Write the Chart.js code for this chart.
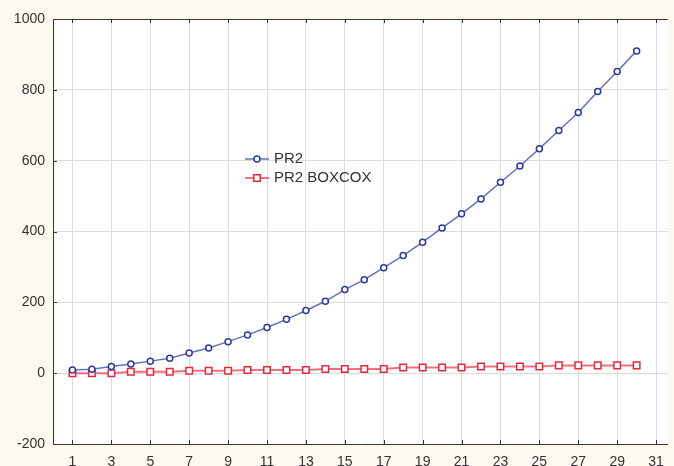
<!DOCTYPE html>
<html>
<head>
<meta charset="utf-8">
<script src="https://cdn.jsdelivr.net/npm/chart.js@4/dist/chart.umd.min.js"></script>
<style>
  html, body { margin: 0; padding: 0; background: #fdf9f0; overflow: hidden; }
  #wrap { position: relative; width: 674px; height: 466px; }
</style>
</head>
<body>
<div id="wrap"><canvas id="c" width="674" height="466"></canvas></div>
<script>
// Observation index
const steps = [1, 2, 3, 4, 5, 6, 7, 8, 9, 10, 11, 12, 13, 14, 15,
               16, 17, 18, 19, 20, 21, 22, 23, 24, 25, 26, 27, 28, 29, 30];

// PR2 series
const pr2 = [9, 11, 19, 26, 34, 42, 57, 71, 89, 108, 129, 152, 177, 203, 236,
             264, 298, 332, 370, 410, 450, 492, 539, 585, 634, 685, 736, 795, 852, 910];

// PR2 after Box-Cox transformation
const pr2Boxcox = [0, 0, 0, 4, 4, 4, 7, 7, 7, 9, 9, 9, 9, 12, 12,
                   12, 12, 16, 16, 16, 16, 19, 19, 19, 19, 22, 22, 22, 22, 22];

// Axis ticks
const xTicks = [1, 3, 5, 7, 9, 11, 13, 15, 17, 19, 21, 23, 25, 27, 29, 31];
const yTicks = [-200, 0, 200, 400, 600, 800, 1000];

const seriesNames = ['PR2', 'PR2 BOXCOX'];

const toPoints = (ys) => steps.map((x, i) => ({ x: x, y: ys[i] }));

const FONT = "'Liberation Sans', Arial, sans-serif";
const AXIS = '#333333';

// White plotting area, closed top frame and inward tick marks
const framePlugin = {
  id: 'frame',
  beforeDraw(chart) {
    const { ctx, chartArea: a } = chart;
    ctx.save();
    ctx.fillStyle = '#ffffff';
    ctx.fillRect(a.left, a.top, a.right - a.left, a.bottom - a.top);
    ctx.restore();
  },
  afterDraw(chart) {
    const { ctx, chartArea: a, scales } = chart;
    ctx.save();
    ctx.strokeStyle = AXIS;
    ctx.lineWidth = 1;
    ctx.beginPath();
    ctx.moveTo(a.left, a.top + 0.5);
    ctx.lineTo(a.right, a.top + 0.5);
    xTicks.forEach(v => {
      const px = Math.round(scales.x.getPixelForValue(v)) + 0.5;
      ctx.moveTo(px, a.top);
      ctx.lineTo(px, a.top + 4);
      ctx.moveTo(px, a.bottom);
      ctx.lineTo(px, a.bottom - 4);
    });
    yTicks.forEach(v => {
      const py = Math.round(scales.y.getPixelForValue(v)) + 0.5;
      ctx.moveTo(a.left, py);
      ctx.lineTo(a.left + 4, py);
    });
    ctx.stroke();
    ctx.restore();
  }
};

// Legend drawn inside the plotting area
const insideLegend = {
  id: 'insideLegend',
  afterDraw(chart) {
    const { ctx, chartArea: a } = chart;
    const x0 = a.left + 192;
    const y0 = a.top + 140;
    const rowGap = 19;
    ctx.save();
    chart.data.datasets.forEach((ds, i) => {
      const y = y0 + i * rowGap;
      ctx.strokeStyle = ds.borderColor;
      ctx.lineWidth = ds.borderWidth;
      ctx.beginPath();
      ctx.moveTo(x0, y);
      ctx.lineTo(x0 + 24, y);
      ctx.stroke();
      ctx.fillStyle = ds.pointBackgroundColor;
      ctx.strokeStyle = ds.pointBorderColor;
      ctx.lineWidth = ds.pointBorderWidth;
      ctx.beginPath();
      if (ds.pointStyle === 'rect') {
        const s = ds.pointRadius * Math.SQRT1_2;
        ctx.rect(x0 + 12 - s, y - s, 2 * s, 2 * s);
      } else {
        ctx.arc(x0 + 12, y, ds.pointRadius, 0, Math.PI * 2);
      }
      ctx.fill();
      ctx.stroke();
      ctx.fillStyle = AXIS;
      ctx.font = '15px ' + FONT;
      ctx.textBaseline = 'middle';
      ctx.textAlign = 'left';
      ctx.fillText(ds.label, x0 + 29, y);
    });
    ctx.restore();
  }
};

new Chart(document.getElementById('c'), {
  type: 'line',
  data: {
    datasets: [
      {
        label: seriesNames[0],
        data: toPoints(pr2),
        borderColor: 'rgba(84, 98, 182, 0.9)',
        borderWidth: 1.5,
        pointStyle: 'circle',
        pointRadius: 3,
        pointBorderWidth: 1.5,
        pointBorderColor: '#2b3a9e',
        pointBackgroundColor: '#ffffff',
        tension: 0
      },
      {
        label: seriesNames[1],
        data: toPoints(pr2Boxcox),
        borderColor: 'rgba(242, 98, 112, 0.9)',
        borderWidth: 2,
        pointStyle: 'rect',
        pointRadius: 4.6,
        pointBorderWidth: 1.5,
        pointBorderColor: '#e5283c',
        pointBackgroundColor: '#ffffff',
        tension: 0
      }
    ]
  },
  options: {
    responsive: false,
    devicePixelRatio: 1,
    animation: false,
    layout: { padding: { top: 19, right: 0, bottom: 0, left: 0 } },
    plugins: {
      legend: { display: false },
      tooltip: { enabled: false },
      title: { display: false }
    },
    scales: {
      x: {
        type: 'linear',
        min: 0,
        max: 31.6,
        afterBuildTicks: (s) => { s.ticks = xTicks.map(v => ({ value: v })); },
        afterFit: (s) => { s.height = 22; },
        grid: { color: '#dcdcdc', lineWidth: 1, drawTicks: false },
        border: { display: true, color: AXIS, width: 1 },
        ticks: {
          color: AXIS,
          padding: 10,
          maxRotation: 0,
          autoSkip: false,
          font: { family: FONT, size: 14 },
          callback: (v) => String(v)
        }
      },
      y: {
        type: 'linear',
        min: -200,
        max: 1000,
        afterBuildTicks: (s) => { s.ticks = yTicks.map(v => ({ value: v })); },
        afterFit: (s) => { s.width = 53; },
        grid: { color: '#dcdcdc', lineWidth: 1, drawTicks: false },
        border: { display: true, color: AXIS, width: 1 },
        ticks: {
          color: AXIS,
          padding: 8,
          font: { family: FONT, size: 14 },
          callback: (v) => String(v)
        }
      }
    }
  },
  plugins: [framePlugin, insideLegend]
});
</script>
</body>
</html>
